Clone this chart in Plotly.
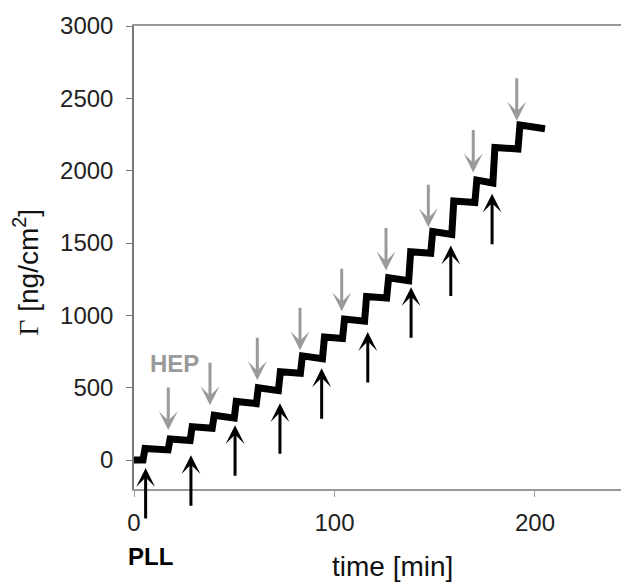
import plotly.graph_objects as go

# ---- data ----
time_min = [0, 4.5, 5.5, 17, 18, 28, 29, 39, 40, 50, 51, 61, 62, 72, 73, 83, 84,
            94, 95, 104, 105, 115, 116, 126, 127, 137, 138, 148, 149, 158.5, 159.5,
            170, 171, 179, 180, 191.5, 192.5, 205]
gamma = [0, 0, 80, 70, 145, 135, 230, 220, 310, 290, 405, 390, 500, 480, 610, 600,
         720, 700, 850, 840, 975, 960, 1130, 1120, 1260, 1240, 1440, 1430, 1580,
         1560, 1790, 1780, 1935, 1915, 2160, 2150, 2315, 2290]

# PLL injection arrows (black, from below): time and arrow-tip value
pll_t = [5.8, 28.4, 50.4, 72.8, 93.6, 116.6, 138.2, 158.0, 178.6]
pll_tip = [-55, 34, 241, 393, 634, 885, 1195, 1483, 1841]
# HEP injection arrows (grey, from above)
hep_t = [17.1, 37.9, 61.5, 82.8, 103.6, 125.7, 146.8, 169.2, 190.9]
hep_tip = [207, 379, 552, 759, 1028, 1310, 1609, 1988, 2345]

x_ticks = [0, 100, 200]
y_ticks = [0, 500, 1000, 1500, 2000, 2500, 3000]

SANS = "Liberation Sans, Arial, sans-serif"
GREY = "#9a9a9a"

fig = go.Figure()
fig.add_trace(go.Scatter(x=time_min, y=gamma, mode="lines",
                         line=dict(color="black", width=7), showlegend=False,
                         hoverinfo="skip"))

annotations = []
for t, g in zip(pll_t, pll_tip):
    annotations.append(dict(x=t, y=g, xref="x", yref="y", ax=0, ay=52,
                            showarrow=True, arrowhead=3, arrowsize=1.05,
                            arrowwidth=3, arrowcolor="black", text=""))
for t, g in zip(hep_t, hep_tip):
    annotations.append(dict(x=t, y=g, xref="x", yref="y", ax=0, ay=-44,
                            showarrow=True, arrowhead=3, arrowsize=1.05,
                            arrowwidth=3, arrowcolor=GREY, text=""))

annotations += [
    dict(x=20, y=669, xref="x", yref="y", text="<b>HEP</b>", showarrow=False,
         font=dict(family=SANS, size=24, color=GREY)),
    dict(x=0.034, y=-0.145, xref="paper", yref="paper", text="<b>PLL</b>",
         showarrow=False, xanchor="center", yanchor="middle",
         font=dict(family=SANS, size=24, color="black")),
    dict(x=0.53, y=-0.168, xref="paper", yref="paper", text="time [min]",
         showarrow=False, xanchor="center", yanchor="middle",
         font=dict(family=SANS, size=28, color="#111")),
    dict(x=-0.222, y=0.469, xref="paper", yref="paper", textangle=-90,
         xanchor="center", yanchor="middle",
         text="<span style='font-family:Liberation Serif, Times New Roman, serif'>Γ</span> [ng/cm<sup>2</sup>]",
         showarrow=False, font=dict(family=SANS, size=28, color="#111")),
]

fig.update_layout(
    width=621, height=585,
    margin=dict(l=134, r=0, t=26, b=96, autoexpand=False),
    paper_bgcolor="white", plot_bgcolor="white",
    annotations=annotations,
    xaxis=dict(range=[0, 242.9], tickvals=x_ticks, ticks="outside", ticklen=6,
               tickcolor="#999", showline=True, linecolor="#999", linewidth=1.5,
               mirror=True, showgrid=False, zeroline=False,
               tickfont=dict(family=SANS, size=24, color="#222"),
               ticklabelstandoff=5),
    yaxis=dict(range=[-200, 3000], tickvals=y_ticks, ticks="outside", ticklen=6,
               tickcolor="#777", showline=True, linecolor="#777", linewidth=1.5,
               showgrid=False, zeroline=False,
               tickfont=dict(family=SANS, size=24, color="#222"),
               ticklabelstandoff=8),
)

fig.write_html("out.html", config={"displayModeBar": False},
               post_script="document.body.style.margin='0';document.body.style.overflow='hidden';")
